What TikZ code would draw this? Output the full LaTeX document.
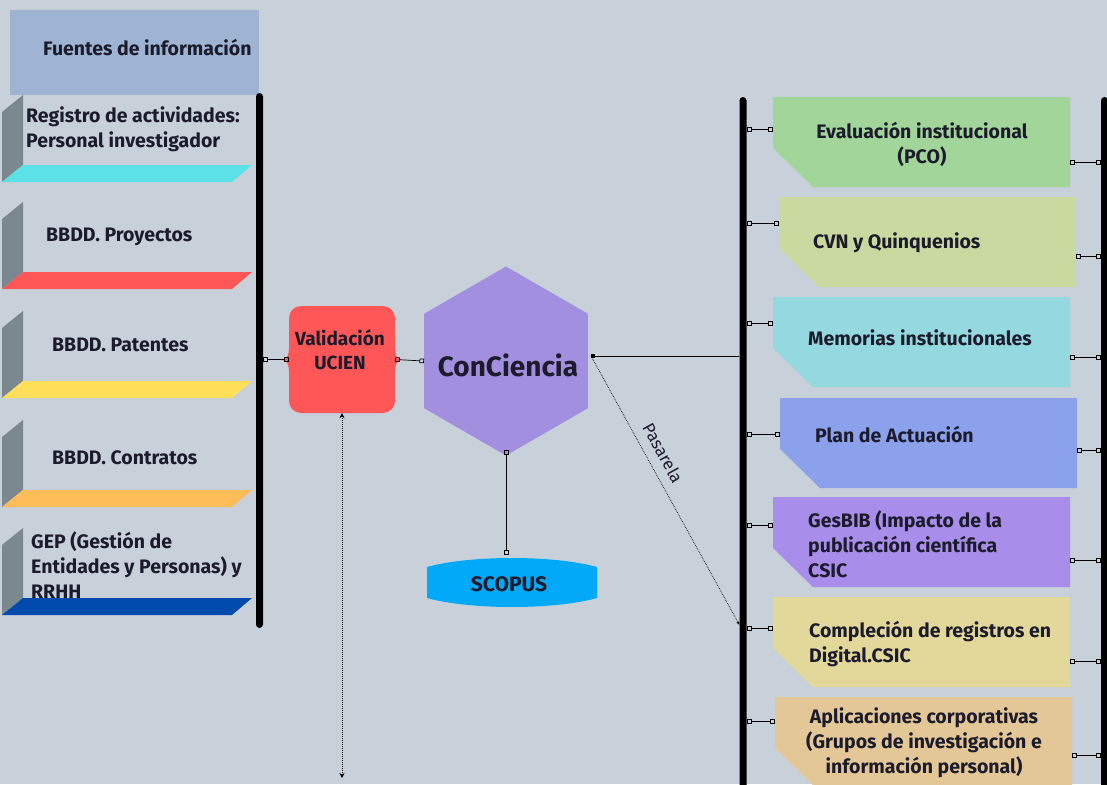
\documentclass[tikz,border=0pt]{standalone}
\usepackage{fontspec}
\setmainfont{Fira Sans}
\usetikzlibrary{arrows.meta,shapes.geometric}
\definecolor{bg}{HTML}{C8D0DA}
\definecolor{hdr}{HTML}{9EB4D2}
\definecolor{side}{HTML}{7C8890}
\definecolor{ink}{HTML}{1B1B2B}
\definecolor{fcyan}{HTML}{5CE1E6}
\definecolor{fred}{HTML}{FF5757}
\definecolor{fyel}{HTML}{FFDE59}
\definecolor{forg}{HTML}{FFBD59}
\definecolor{fblue}{HTML}{004AAD}
\definecolor{valc}{HTML}{FF5757}
\definecolor{hexc}{HTML}{A28FDF}
\definecolor{scoc}{HTML}{03A9F9}
\definecolor{c1}{HTML}{A2D59A}
\definecolor{c2}{HTML}{C9D99F}
\definecolor{c3}{HTML}{94D9DF}
\definecolor{c4}{HTML}{8CA1EB}
\definecolor{c5}{HTML}{A98DEA}
\definecolor{c6}{HTML}{E2D89A}
\definecolor{c7}{HTML}{E3C796}
\newcommand\shelf[2]{%
  \fill[side] (2,#1+17) -- (23,#1) -- (23,#1+70) -- (2,#1+87) -- cycle;
  \fill[#2] (23,#1+70) -- (252,#1+70) -- (232,#1+87) -- (2,#1+87) -- cycle;}
\newcommand\rshape[3]{%
  \fill[#3] (#1,#2) -- ++(297,0) -- ++(0,90) -- ++(-257,0) -- ++(-40,-39) -- cycle;}
\begin{document}
\begin{tikzpicture}[x=1pt,y=-1pt,
  txt/.style={font=\fontsize{19.5}{25}\selectfont\bfseries, text=ink, inner sep=0pt, align=left},
  ctxt/.style={txt, align=center},
  conn/.style={line width=0.7pt, {Square[open,length=4.5pt,width=4.5pt]}-{Square[open,length=4.5pt,width=4.5pt]}},
  bar/.style={fill=black, rounded corners=3.5pt, inner sep=0pt, minimum width=7pt},
  boxnode/.style={minimum width=297pt, minimum height=90pt, inner sep=0pt}]
\path[use as bounding box, clip] (0,0) rectangle (1107,784);
\fill[bg] (0,0) rectangle (1107,784);

% header
\node[fill=hdr, minimum width=249pt, minimum height=85pt, inner sep=0pt] (hdr) at (134.5,52.5) {};
\node[txt, anchor=west] (hdrt) at (43,48) {Fuentes de información};

% left shelves
\shelf{95}{fcyan}
\shelf{202}{fred}
\shelf{311}{fyel}
\shelf{420}{forg}
\shelf{528}{fblue}
\node[txt, anchor=west] (l1) at (26,129) {Registro de actividades:\\Personal investigador};
\node[txt, anchor=west] (l2) at (46,237) {BBDD. Proyectos};
\node[txt, anchor=west] (l3) at (52,345) {BBDD. Patentes};
\node[txt, anchor=west] (l4) at (52,458) {BBDD. Contratos};
\node[txt, anchor=west] (l5) at (31,565) {GEP (Gestión de\\Entidades y Personas) y\\RRHH};

% bars
\node[bar, minimum height=535pt] (lbar) at (259.5,360.5) {};
\node[bar, minimum height=705pt] (rbarA) at (743,449.5) {};
\node[bar, minimum height=705pt] (rbarB) at (1104.5,449.5) {};

% validation
\fill[valc] (301,306) -- (383,306) .. controls (389.6,306) and (395,311.4) .. (395,318)
  -- (395,348) .. controls (395,355) and (397,360) .. (402,360)
  .. controls (397,360) and (395,365) .. (395,372)
  -- (395,401) .. controls (395,407.6) and (389.6,413) .. (383,413)
  -- (301,413) .. controls (294.4,413) and (289,407.6) .. (289,401)
  -- (289,372) .. controls (289,365) and (287,360) .. (282,360)
  .. controls (287,360) and (289,355) .. (289,348)
  -- (289,318) .. controls (289,311.4) and (294.4,306) .. (301,306) -- cycle;
\node[minimum width=106pt, minimum height=107pt, inner sep=0pt] (val) at (342,359.5) {};
\node[ctxt, font=\fontsize{19}{24}\selectfont\bfseries] (valt) at (340,350) {Validación\\UCIEN};

% ConCiencia
\node[regular polygon, regular polygon sides=6, shape border rotate=30, minimum size=189pt, inner sep=0pt, fill=hexc] (hex) at (506,361) {};
\node[txt, font=\fontsize{28}{30}\selectfont\bfseries] (hext) at (508,365) {ConCiencia};
\coordinate (hexR) at (591,356);

% SCOPUS
\fill[scoc] (427,567) .. controls (470,555) and (554,555) .. (597,567) -- (597,598)
  .. controls (554,610) and (470,610) .. (427,598) -- cycle;
\node[minimum width=170pt, minimum height=50pt, inner sep=0pt] (scopus) at (512,582) {};
\node[txt, font=\fontsize{21}{24}\selectfont\bfseries] (scot) at (509,584) {SCOPUS};

% right boxes
\rshape{773}{97}{c1}
\rshape{779}{197}{c2}
\rshape{773}{297}{c3}
\rshape{780}{398}{c4}
\rshape{773}{497}{c5}
\rshape{773}{597}{c6}
\rshape{775}{697}{c7}
\node[boxnode] (r1) at (921.5,142) {};
\node[boxnode] (r2) at (927.5,242) {};
\node[boxnode] (r3) at (921.5,342) {};
\node[boxnode] (r4) at (928.5,443) {};
\node[boxnode] (r5) at (921.5,542) {};
\node[boxnode] (r6) at (921.5,642) {};
\node[boxnode] (r7) at (923.5,742) {};
\node[ctxt] (rt1) at (922,144) {Evaluación institucional\\(PCO)};
\node[txt, anchor=west] (rt2) at (813,243) {CVN y Quinquenios};
\node[txt, anchor=west] (rt3) at (808,338) {Memorias institucionales};
\node[txt, anchor=west] (rt4) at (815,435) {Plan de Actuación};
\node[txt, anchor=west] (rt5) at (808,544) {GesBIB (Impacto de la\\publicación científica\\CSIC};
\node[txt, anchor=west] (rt6) at (809,644.5) {Compleción de registros en\\Digital.CSIC};
\node[ctxt] (rt7) at (924,743) {Aplicaciones corporativas\\(Grupos de investigación e\\información personal)};

% connectors
\draw[conn] (lbar.east |- val.west) -- (val.west);
\draw[conn] (val.east) -- (hex.west);
\draw[conn] ([yshift=6pt]hex.south) -- ([yshift=2pt]hex.south |- scopus.north);
\draw[line width=0.8pt, {Square[length=4pt,width=4pt]}-] (hexR) -- (rbarA.west |- hexR);
\coordinate (pasEnd) at (739.5,625);
\draw[densely dotted, line width=0.7pt, -{Stealth[length=4pt,width=3pt]}] (hexR) -- (pasEnd)
  node[pos=0.39, sloped, above=6pt, font=\fontsize{17}{19}\selectfont, text=ink] (pas) {Pasarela};
\coordinate (valEnd) at (342,778);
\draw[densely dotted, line width=1pt, {Stealth[length=5pt,width=5pt]}-{Stealth[length=5pt,width=5pt]}] (val.south) -- (valEnd);

\foreach \b/\yl/\yr in {r1/129/162, r2/223/256, r3/323/357, r4/434/450, r5/525/560, r6/628/661, r7/721/755}{
  \draw[conn] (rbarA.east |- 0,\yl) -- (\b.west |- 0,\yl);
  \draw[conn] (\b.east |- 0,\yr) -- (rbarB.west |- 0,\yr);
}
\end{tikzpicture}
\end{document}
